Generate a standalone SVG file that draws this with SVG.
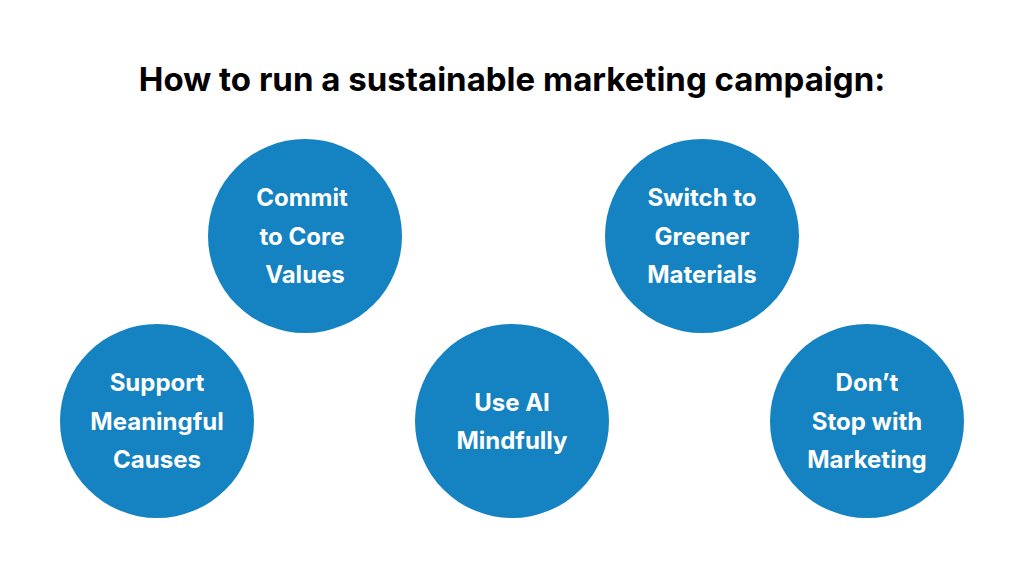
<svg xmlns="http://www.w3.org/2000/svg" width="1024" height="576" viewBox="0 0 1024 576">
<style>
.c{fill:#1582c1}
.t{font-family:Inter,"Liberation Sans",sans-serif;font-weight:700;font-size:24px;fill:#fff;text-anchor:middle}
.h{font-family:Inter,"Liberation Sans",sans-serif;font-weight:700;font-size:33px;fill:#000;text-anchor:middle}
</style>
<rect width="1024" height="576" fill="#fff"/>
<text class="h" x="512" y="91">How to run a sustainable marketing campaign:</text>
<g id="commit"><circle class="c" cx="305" cy="236" r="97"/><text class="t" x="302"><tspan x="302" y="206">Commit</tspan><tspan x="302" y="245">to Core</tspan><tspan x="305" y="283">Values</tspan></text></g>
<g id="switch"><circle class="c" cx="702" cy="236" r="97"/><text class="t"><tspan x="702" y="206">Switch to</tspan><tspan x="702" y="245">Greener</tspan><tspan x="702" y="283">Materials</tspan></text></g>
<g id="support"><circle class="c" cx="157" cy="421" r="97"/><text class="t"><tspan x="157" y="391">Support</tspan><tspan x="157" y="430">Meaningful</tspan><tspan x="157" y="468">Causes</tspan></text></g>
<g id="useai"><circle class="c" cx="512" cy="421" r="97"/><text class="t"><tspan x="512" y="411">Use AI</tspan><tspan x="512" y="449">Mindfully</tspan></text></g>
<g id="dontstop"><circle class="c" cx="867" cy="421" r="97"/><text class="t"><tspan x="867" y="391">Don’t</tspan><tspan x="867" y="430">Stop with</tspan><tspan x="867" y="468">Marketing</tspan></text></g>
<g id="connectors"/>
</svg>
